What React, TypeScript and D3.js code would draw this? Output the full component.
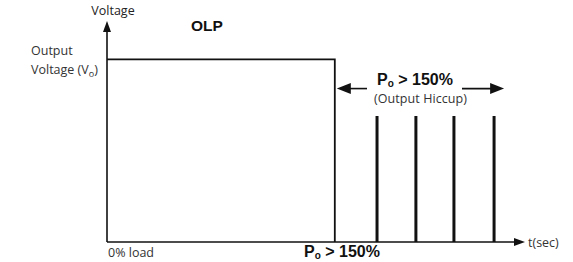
import React from "react";
import * as d3 from "d3";

// time axis (arbitrary units) and voltage levels
const timeDomain = [0, 100];
const voltDomain = [0, 1.21];
const outputLevel = 1;
const overloadTime = 54.5;
const hiccupTimes = [64.6, 73.9, 83, 92.6];
const hiccupLevel = 0.69;

const titleText = "OLP";
const yLabel = "Voltage";
const xLabel = "t(sec)";
const levelLabel = ["Output", "Voltage (V", "o", ")"];
const startLabel = "0% load";
const overloadLabel = ["P", "o", " > 150%"];
const hiccupLabel = "(Output Hiccup)";

const W = 573;
const H = 262;
const margin = { top: 21, right: 48, bottom: 20, left: 107 };

const light = "'Open Sans', 'DejaVu Sans', sans-serif";
const bold = "'Liberation Sans', Arial, sans-serif";

const App = () => {
  const x = d3
    .scaleLinear()
    .domain(timeDomain)
    .range([margin.left, W - margin.right]);
  const y = d3
    .scaleLinear()
    .domain(voltDomain)
    .range([H - margin.bottom, margin.top]);

  const x0 = x(timeDomain[0]);
  const y0 = y(0);

  // output voltage trace: on until overload, then drops to zero
  const trace = d3.line<[number, number]>()
    .x((d) => x(d[0]))
    .y((d) => y(d[1]))([
    [timeDomain[0], outputLevel],
    [overloadTime, outputLevel],
    [overloadTime, 0],
  ]);

  const arrowY = y(0.84);
  const leftTip = x(overloadTime) + 2;
  const rightTip = x(95);

  return (
    <svg
      width={W}
      height={H}
      style={{ position: "absolute", left: 0, top: 0, background: "#fff" }}
    >
      <rect width={W} height={H} fill="#fff" />

      {/* axes */}
      <line x1={x0} y1={y0} x2={x(timeDomain[1]) - 6} y2={y0} stroke="#111" strokeWidth={1.6} />
      <path d={`M${x(timeDomain[1])},${y0} l-11,-4 l0,8 z`} fill="#111" />
      <line x1={x0} y1={y0} x2={x0} y2={y(voltDomain[1]) + 6} stroke="#111" strokeWidth={1.6} />
      <path d={`M${x0},${y(voltDomain[1])} l-4,11 l8,0 z`} fill="#111" />

      {/* output trace */}
      <path d={trace ?? ""} fill="none" stroke="#111" strokeWidth={1.8} />

      {/* hiccup pulses */}
      {hiccupTimes.map((t) => (
        <line
          key={t}
          x1={x(t)}
          x2={x(t)}
          y1={y0}
          y2={y(hiccupLevel)}
          stroke="#111"
          strokeWidth={3}
        />
      ))}

      {/* hiccup span arrows */}
      <line x1={leftTip + 10} x2={367} y1={arrowY} y2={arrowY} stroke="#111" strokeWidth={1.6} />
      <path d={`M${leftTip},${arrowY} l14,-5.5 l0,11 z`} fill="#111" />
      <line x1={462} x2={rightTip - 10} y1={arrowY} y2={arrowY} stroke="#111" strokeWidth={1.6} />
      <path d={`M${rightTip},${arrowY} l-14,-5.5 l0,11 z`} fill="#111" />

      <text x={377} y={85} fontFamily={bold} fontWeight="bold" fontSize={16} fill="#111">
        {overloadLabel[0]}
        <tspan fontSize={10} dy={2}>{overloadLabel[1]}</tspan>
        <tspan dy={-2}>{overloadLabel[2]}</tspan>
      </text>
      <text x={374} y={103} fontFamily={light} fontSize={12.5} fill="#333" textLength={93}>
        {hiccupLabel}
      </text>

      {/* labels */}
      <text x={113} y={15} textAnchor="middle" fontFamily={light} fontSize={12.5} fill="#222">
        {yLabel}
      </text>
      <text x={207} y={31} textAnchor="middle" fontFamily={bold} fontWeight="bold" fontSize={15.5} fill="#111">
        {titleText}
      </text>
      <text x={31} y={55} fontFamily={light} fontSize={12.5} fill="#333">
        {levelLabel[0]}
      </text>
      <text x={31} y={74} fontFamily={light} fontSize={12.5} fill="#333">
        {levelLabel[1]}
        <tspan fontSize={9} dy={3}>{levelLabel[2]}</tspan>
        <tspan dy={-3}>{levelLabel[3]}</tspan>
      </text>
      <text x={x0 + 1} y={257} fontFamily={light} fontSize={12.5} fill="#333">
        {startLabel}
      </text>
      <text x={x(timeDomain[1]) + 3} y={247} fontFamily={light} fontSize={12.5} fill="#333">
        {xLabel}
      </text>
      <text x={304} y={257} fontFamily={bold} fontWeight="bold" fontSize={16} fill="#111">
        {overloadLabel[0]}
        <tspan fontSize={10} dy={2}>{overloadLabel[1]}</tspan>
        <tspan dy={-2}>{overloadLabel[2]}</tspan>
      </text>
    </svg>
  );
};

export default App;
